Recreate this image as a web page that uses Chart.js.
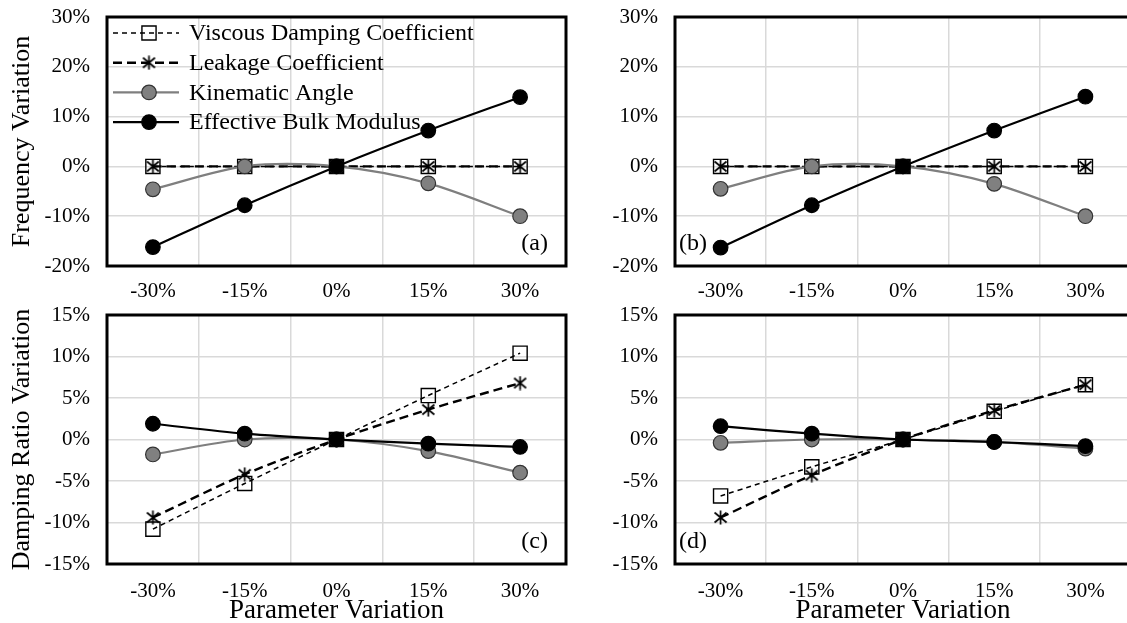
<!DOCTYPE html>
<html>
<head>
<meta charset="utf-8">
<script src="https://cdn.jsdelivr.net/npm/chart.js@4.4.1/dist/chart.umd.min.js"></script>
<style>
  html, body { margin: 0; padding: 0; background: #fff; width: 1127px; height: 623px; overflow: hidden; position: relative; }
  canvas { position: absolute; }
</style>
</head>
<body>
<canvas id="chartA" width="580" height="300" style="left:0;top:0"></canvas>
<canvas id="chartB" width="545" height="300" style="left:600px;top:0"></canvas>
<canvas id="chartC" width="580" height="329" style="left:0;top:298px"></canvas>
<canvas id="chartD" width="545" height="329" style="left:600px;top:298px"></canvas>
<script>
const categories = ['-30%', '-15%', '0%', '15%', '30%'];
const seriesNames = ['Viscous Damping Coefficient', 'Leakage Coefficient', 'Kinematic Angle', 'Effective Bulk Modulus'];

// frequency variation (%) - (a)
const viscousA = [0, 0, 0, 0, 0];
const leakageA = [0, 0, 0, 0, 0];
const kinematicA = [-4.6, 0, 0, -3.4, -10.0];
const bulkA = [-16.2, -7.8, 0, 7.2, 13.9];

// frequency variation (%) - (b)
const viscousB = [0, 0, 0, 0, 0];
const leakageB = [0, 0, 0, 0, 0];
const kinematicB = [-4.5, 0, 0, -3.5, -10.0];
const bulkB = [-16.3, -7.8, 0, 7.2, 14.0];

// damping ratio variation (%) - (c)
const viscousC = [-10.8, -5.3, 0, 5.3, 10.4];
const leakageC = [-9.4, -4.2, 0, 3.6, 6.8];
const kinematicC = [-1.8, 0, 0, -1.4, -4.0];
const bulkC = [1.9, 0.7, 0, -0.5, -0.9];

// damping ratio variation (%) - (d)
const viscousD = [-6.8, -3.3, 0, 3.4, 6.6];
const leakageD = [-9.4, -4.3, 0, 3.5, 6.6];
const kinematicD = [-0.4, 0, 0, -0.3, -1.1];
const bulkD = [1.6, 0.7, 0, -0.3, -0.8];

const freqRange = [-20, 30, 10];
const dampRange = [-15, 15, 5];

const FONT = "'Liberation Serif', 'Times New Roman', serif";
Chart.defaults.font.family = FONT;
Chart.defaults.color = '#000';

// asterisk marker: an X crossed by a vertical bar
function asterisk(size, lw) {
  const c = document.createElement('canvas');
  c.width = c.height = size;
  const g = c.getContext('2d');
  g.strokeStyle = '#000';
  g.lineWidth = lw;
  const m = 1.5;
  g.beginPath();
  g.moveTo(size / 2, 0.5); g.lineTo(size / 2, size - 0.5);
  g.moveTo(m, m + 1); g.lineTo(size - m, size - m - 1);
  g.moveTo(size - m, m + 1); g.lineTo(m, size - m - 1);
  g.stroke();
  return c;
}

const styles = [
  { color: '#000', width: 1.5, dash: [5, 4], point: 'rect', radius: 10, fill: 'rgba(0,0,0,0)', edge: '#000', edgeWidth: 1.4 },
  { color: '#000', width: 2.4, dash: [9, 5], point: asterisk(15, 1.7), radius: 7, fill: '#fff', edge: '#000', edgeWidth: 1.7 },
  { color: '#7f7f7f', width: 2.2, dash: [], point: 'circle', radius: 7.3, fill: '#808080', edge: '#333', edgeWidth: 1.2 },
  { color: '#000', width: 2.2, dash: [], point: 'circle', radius: 7.3, fill: '#000', edge: '#000', edgeWidth: 1.2 }
];

// frame, in-plot legend and panel letter
const decor = {
  id: 'decor',
  afterDraw(chart, args, opts) {
    const { ctx, chartArea: a } = chart;
    ctx.save();
    ctx.strokeStyle = '#000';
    ctx.lineWidth = 3;
    ctx.setLineDash([]);
    ctx.strokeRect(a.left, a.top, a.right - a.left, a.bottom - a.top);

    if (opts.legend) {
      seriesNames.forEach((name, i) => {
        const s = styles[i];
        const y = a.top + 16 + i * 29.7;
        ctx.beginPath();
        ctx.strokeStyle = s.color;
        ctx.lineWidth = s.width;
        ctx.setLineDash(s.dash);
        ctx.moveTo(a.left + 6, y);
        ctx.lineTo(a.left + 72, y);
        ctx.stroke();
        ctx.setLineDash([]);
        ctx.fillStyle = s.fill;
        ctx.strokeStyle = s.edge;
        ctx.lineWidth = s.edgeWidth;
        Chart.helpers.drawPoint(ctx, { pointStyle: s.point, radius: s.radius, rotation: 0, borderWidth: s.edgeWidth }, a.left + 42, y);
        ctx.fillStyle = '#000';
        ctx.font = '24px ' + FONT;
        ctx.textAlign = 'left';
        ctx.textBaseline = 'middle';
        ctx.fillText(name, a.left + 82, y + 1);
      });
    }

    ctx.font = '24px ' + FONT;
    ctx.fillStyle = '#000';
    ctx.textBaseline = 'middle';
    if (opts.letterSide === 'right') {
      ctx.textAlign = 'right';
      ctx.fillText(opts.letter, a.right - 18, a.bottom - 22);
    } else {
      ctx.textAlign = 'left';
      ctx.fillText(opts.letter, a.left + 4, a.bottom - 22);
    }
    ctx.restore();
  }
};

function buildPanel(id, values, range, cfg) {
  const datasets = values.map((data, i) => {
    const s = styles[i];
    return {
      label: seriesNames[i],
      data: data,
      borderColor: s.color,
      borderWidth: s.width,
      borderDash: s.dash,
      pointStyle: s.point,
      pointRadius: s.radius,
      pointBackgroundColor: i === 0 ? (c => c.dataIndex === 2 ? '#000' : s.fill) : s.fill,
      pointBorderColor: s.edge,
      pointBorderWidth: s.edgeWidth,
      tension: 0.3,
      fill: false,
      order: 4 - i
    };
  });

  const gridStyle = { color: '#d9d9d9', lineWidth: 1.5, drawTicks: false };

  return new Chart(document.getElementById(id), {
    type: 'line',
    data: { labels: categories, datasets: datasets },
    options: {
      responsive: false,
      animation: false,
      events: [],
      layout: { padding: { top: 17, right: 14, left: 0, bottom: 0 } },
      plugins: {
        legend: { display: false },
        tooltip: { enabled: false },
        decor: { legend: cfg.legend, letter: cfg.letter, letterSide: cfg.letterSide }
      },
      scales: {
        x: {
          offset: true,
          grid: Object.assign({ offset: true }, gridStyle),
          border: { display: false },
          ticks: { padding: cfg.xPad, font: { size: 21 }, color: '#000', maxRotation: 0, autoSkip: false },
          title: {
            display: !!cfg.xTitle,
            text: cfg.xTitle || '',
            font: { size: 27 },
            color: '#000',
            padding: { top: 0, bottom: 0 }
          },
          afterFit: s => { s.height = cfg.xHeight; s.paddingLeft = 0; s.paddingRight = 0; }
        },
        y: {
          min: range[0],
          max: range[1],
          grid: gridStyle,
          border: { display: false },
          ticks: { stepSize: range[2], padding: 17, font: { size: 21 }, color: '#000', callback: v => v + '%' },
          title: {
            display: !!cfg.yTitle,
            text: cfg.yTitle || '',
            font: { size: 26 },
            color: '#000',
            padding: { top: 7, bottom: 0 }
          },
          // plot box is placed by layout padding alone
          afterFit: s => { s.width = cfg.yWidth; s.paddingTop = 0; s.paddingBottom = 0; }
        }
      }
    },
    plugins: [decor]
  });
}

buildPanel('chartA', [viscousA, leakageA, kinematicA, bulkA], freqRange,
  { yWidth: 107, xHeight: 34, xPad: 13, yTitle: 'Frequency Variation', legend: true, letter: '(a)', letterSide: 'right' });
buildPanel('chartB', [viscousB, leakageB, kinematicB, bulkB], freqRange,
  { yWidth: 75, xHeight: 34, xPad: 13, legend: false, letter: '(b)', letterSide: 'left' });
buildPanel('chartC', [viscousC, leakageC, kinematicC, bulkC], dampRange,
  { yWidth: 107, xHeight: 63, xPad: 15, yTitle: 'Damping Ratio Variation', xTitle: 'Parameter Variation', legend: false, letter: '(c)', letterSide: 'right' });
buildPanel('chartD', [viscousD, leakageD, kinematicD, bulkD], dampRange,
  { yWidth: 75, xHeight: 63, xPad: 15, xTitle: 'Parameter Variation', legend: false, letter: '(d)', letterSide: 'left' });
</script>
</body>
</html>
